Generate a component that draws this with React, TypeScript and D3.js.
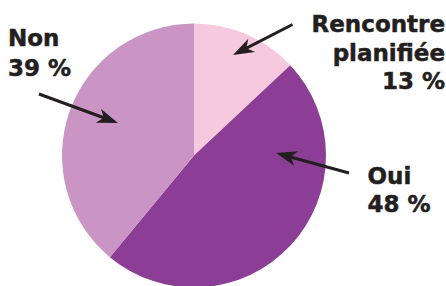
import React from "react";
import * as d3 from "d3";

const categories = ["Rencontre planifiée", "Oui", "Non"];
const values = [13, 48, 39];
const colors = ["#F7C9DE", "#8C3E96", "#CA95C5"];

// label lines per category
const labelLines = [["Rencontre", "planifiée", "13 %"], ["Oui", "48 %"], ["Non", "39 %"]];

const W = 446;
const H = 286;
const cx = 194;
const cy = 155.5;
const R = 132;

// label layout: anchor x, first baseline, line spacing, text-anchor
const labelLayout = [
  { x: 445, y: 32, dy: 28.5, anchor: "end" },
  { x: 367.5, y: 184, dy: 28, anchor: "start" },
  { x: 8, y: 46, dy: 30, anchor: "start" },
];

// arrow layout: tail point and tip point
const arrowLayout = [
  { tail: [292.5, 24.5], tip: [233, 55] },
  { tail: [349, 173], tip: [276, 153] },
  { tail: [39, 94], tip: [118, 123] },
];

function arrowPaths(tail: number[], tip: number[]) {
  const dx = tip[0] - tail[0];
  const dy = tip[1] - tail[1];
  const len = Math.hypot(dx, dy);
  const ux = dx / len;
  const uy = dy / len;
  const nx = -uy;
  const ny = ux;
  const L = 21;
  const w = 7.5;
  const notch = 6;
  const bx = tip[0] - L * ux;
  const by = tip[1] - L * uy;
  const mx = tip[0] - (L - notch) * ux;
  const my = tip[1] - (L - notch) * uy;
  const head = `M${tip[0]},${tip[1]}L${bx + w * nx},${by + w * ny}L${mx},${my}L${bx - w * nx},${by - w * ny}Z`;
  const line = `M${tail[0]},${tail[1]}L${mx + ux * 2},${my + uy * 2}`;
  return { head, line };
}

export default function App() {
  const pie = d3.pie<number>().sort(null).value((d) => d);
  const arcs = pie(values);
  const arc = d3.arc<d3.PieArcDatum<number>>().innerRadius(0).outerRadius(R);
  const color = d3.scaleOrdinal<string, string>().domain(categories).range(colors);

  return (
    <svg
      width={W}
      height={H}
      style={{ position: "fixed", left: 0, top: 0, background: "#fff" }}
    >
      <g transform={`translate(${cx},${cy})`}>
        {arcs.map((a, i) => (
          <path key={i} d={arc(a) || ""} fill={color(categories[i])} />
        ))}
      </g>
      {arrowLayout.map((a, i) => {
        const p = arrowPaths(a.tail, a.tip);
        return (
          <g key={i}>
            <path d={p.line} stroke="#231F20" strokeWidth={3} fill="none" />
            <path d={p.head} fill="#231F20" />
          </g>
        );
      })}
      {labelLines.map((lines, i) => {
        const l = labelLayout[i];
        return (
          <text
            key={i}
            fontFamily="DejaVu Sans"
            fontWeight="bold"
            fontSize={23}
            fill="#231F20"
            stroke="#231F20"
            strokeWidth={0.5}
            textAnchor={l.anchor as any}
          >
            {lines.map((t, j) => (
              <tspan key={j} x={l.x} y={l.y + j * l.dy}>
                {t}
              </tspan>
            ))}
          </text>
        );
      })}
    </svg>
  );
}
